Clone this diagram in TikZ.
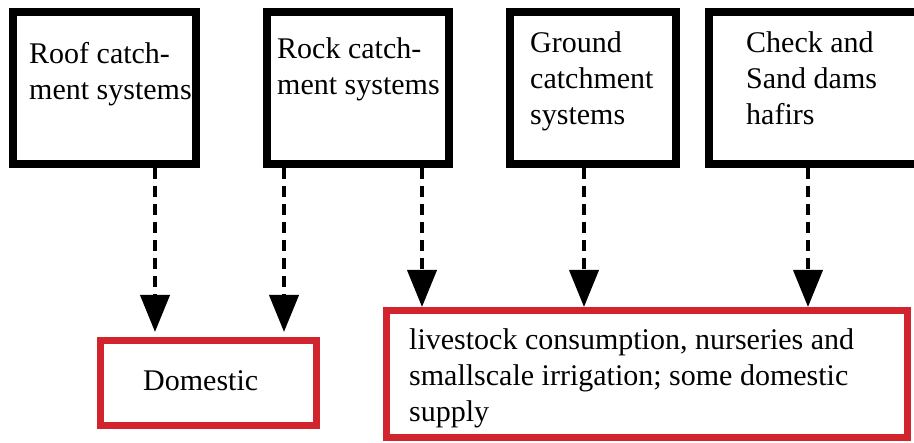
\documentclass[tikz,border=0pt]{standalone}
\usepackage{fontspec}
\setmainfont{Liberation Serif}
\usetikzlibrary{arrows.meta}
\definecolor{usered}{RGB}{210,36,44}

\begin{document}
\begin{tikzpicture}[x=1pt,y=-1pt,
        source/.style={draw=black,line width=8pt,inner sep=0pt,minimum height=152pt},
        use/.style={draw=usered,line width=7pt,inner sep=0pt},
        txt/.style={anchor=base west,align=left,inner sep=0pt,font=\fontsize{30}{36}\selectfont},
        flow/.style={line width=4pt,dash pattern=on 11pt off 7pt,-{Triangle[length=37pt,width=29pt]}}]
                \useasboundingbox (0,0) rectangle (914,443);
                \fill[white] (0,0) rectangle (914,443);

                \node[source,minimum width=183pt] (roof) at (104.5,88) {};
                \node[source,minimum width=182pt] (rock) at (358,88) {};
                \node[source,minimum width=166pt] (ground) at (593,88) {};
                \node[source,minimum width=216pt] (dams) at (817,88) {};

                \node[use,minimum width=216pt,minimum height=85pt] (domestic) at (208.5,383) {};
                \node[use,minimum width=521pt,minimum height=127pt] (supply) at (647,374) {};

                \node[txt] (roof text) at (29,100) {Roof catch-\\ment systems};
                \node[txt] (rock text) at (277,95) {Rock catch-\\ment systems};
                \node[txt] (ground text) at (530,125) {Ground\\catchment\\systems};
                \node[txt] (dams text) at (746,125) {Check and\\Sand dams\\hafirs};
                \node[txt] (domestic text) at (143,391) {Domestic};
                \node[txt] (supply text) at (409,422) {livestock consumption, nurseries and\\smallscale irrigation; some domestic\\supply};

                \draw[flow,shorten >=5pt] ([xshift=50.5pt]roof.south) -- ([xshift=50.5pt]roof.south |- domestic.north);
                \draw[flow,shorten >=5pt] ([xshift=-74pt]rock.south) -- ([xshift=-74pt]rock.south |- domestic.north);
                \draw[flow] ([xshift=64pt]rock.south) -- ([xshift=64pt]rock.south |- supply.north);
                \draw[flow] ([xshift=-9pt]ground.south) -- ([xshift=-9pt]ground.south |- supply.north);
                \draw[flow] ([xshift=-9pt]dams.south) -- ([xshift=-9pt]dams.south |- supply.north);
            \end{tikzpicture}
\end{document}
